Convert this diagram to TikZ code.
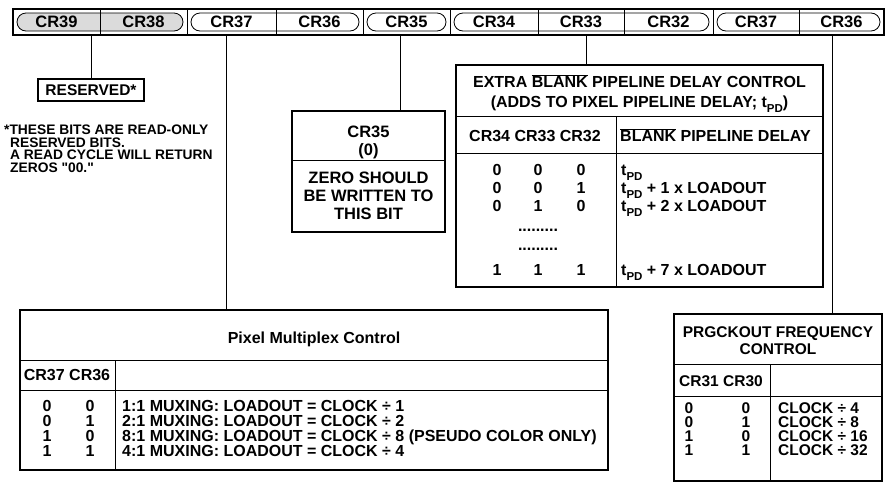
\documentclass[tikz,border=0pt]{standalone}
\usepackage{fontspec}
\setmainfont{Liberation Sans}[Ligatures=TeXOff]
\newcommand\tsub{\raisebox{-0.28em}{\fontsize{11.5}{11.5}\selectfont PD}}
\newcommand\ovl[1]{$\overline{\hbox{#1}}$}
\tikzset{
  lbl/.style={font=\fontsize{15.5}{18}\selectfont\bfseries, inner sep=0pt, text height=11.1pt, text depth=0pt},
  barlbl/.style={font=\fontsize{16.5}{18}\selectfont\bfseries, inner sep=0pt, text height=11.8pt, text depth=0pt},
  midlbl/.style={font=\fontsize{16.5}{18}\selectfont\bfseries, inner sep=0pt, text height=11.8pt, text depth=0pt},
  extlbl/.style={font=\fontsize{16}{18}\selectfont\bfseries, inner sep=0pt, text height=11.5pt, text depth=0pt},
  sml/.style={font=\fontsize{16}{18}\selectfont\bfseries, inner sep=0pt, text height=11.5pt, text depth=0pt},
  notetxt/.style={font=\fontsize{13.8}{15}\selectfont\bfseries, inner sep=0pt, text height=9.9pt, text depth=0pt, anchor=west},
  tbox/.style={draw, line width=1.3pt, inner sep=0pt},
  bitgroup/.style={draw, line width=0.8pt, rounded corners=9pt},
  rule/.style={line width=0.9pt},
  conn/.style={line width=1pt}
}
\begin{document}
\begin{tikzpicture}[x=1pt,y=-1pt]
\useasboundingbox (0,0) rectangle (886,483);
% ---------- register bar ----------
\draw[bitgroup, fill=gray!28] (17,13) rectangle (183,31);
\draw[bitgroup] (191,13) rectangle (359,31);
\draw[bitgroup] (367,13) rectangle (446,31);
\draw[bitgroup] (454,13) rectangle (709,31);
\draw[bitgroup] (717,13) rectangle (880,31);
\foreach \x in {100,187,276,363,450,538,624,713,799}
  \draw[rule] (\x,9) -- (\x,35);
\node[draw, line width=1.8pt, minimum width=871pt, minimum height=26pt, inner sep=0pt] (bar) at (448.5,22) {};
\node[barlbl] (c39) at (56.5,22) {CR39};
\node[barlbl] (c38) at (143.5,22) {CR38};
\node[barlbl] (c37) at (231.5,22) {CR37};
\node[barlbl] (c36) at (319.5,22) {CR36};
\node[barlbl] (c35) at (406.5,22) {CR35};
\node[barlbl] (c34) at (494,22) {CR34};
\node[barlbl] (c33) at (581,22) {CR33};
\node[barlbl] (c32) at (668.5,22) {CR32};
\node[barlbl] (c31) at (756,22) {CR37};
\node[barlbl] (c30) at (841.5,22) {CR36};
% ---------- reserved ----------
\node[tbox, minimum width=106pt, minimum height=22pt] (res) at (91,90) {};
\node[lbl] (restxt) at (res.center) {RESERVED*};
\node[notetxt] (n1) at (4,130) {*THESE BITS ARE READ-ONLY};
\node[notetxt] (n2) at (10,142.5) {RESERVED BITS.};
\node[notetxt] (n3) at (10,155) {A READ CYCLE WILL RETURN};
\node[notetxt] (n4) at (10,167.5) {ZEROS "00."};
% ---------- CR35 box ----------
\node[tbox, minimum width=153pt, minimum height=121pt] (z) at (368.5,171.5) {};
\node[midlbl] (z1) at (368.5,132) {CR35};
\node[midlbl] (z2) at (368.5,150) {(0)};
\draw[rule] (z.west |- 0,160) -- (z.east |- 0,160);
\node[midlbl] (z3) at (368.5,178) {ZERO SHOULD};
\node[midlbl] (z4) at (368.5,196) {BE WRITTEN TO};
\node[midlbl] (z5) at (368.5,214) {THIS BIT};
% ---------- EXTRA BLANK box ----------
\node[tbox, minimum width=367pt, minimum height=222pt] (ext) at (639.5,176) {};
\node[extlbl] (e1) at (639.5,82) {EXTRA \ovl{BLANK} PIPELINE DELAY CONTROL};
\node[extlbl] (e2) at (639.5,102) {(ADDS TO PIXEL PIPELINE DELAY; t\tsub)};
\draw[rule] (ext.west |- 0,116) -- (ext.east |- 0,116);
\draw[rule] (616,116) -- (616,0 |- ext.south);
\node[extlbl] (eh1) at (535,136) {CR34 CR33 CR32};
\node[extlbl, anchor=west] (eh2) at (620,136) {\ovl{BLANK} PIPELINE DELAY};
\draw[rule] (ext.west |- 0,153) -- (ext.east |- 0,153);
\foreach \y/\a/\b/\c/\n in {170/0/0/0/a,188/0/0/1/b,206/0/1/0/c,270/1/1/1/d}{
  \node[extlbl] (ea\n) at (497,\y) {\a};
  \node[extlbl] (eb\n) at (538,\y) {\b};
  \node[extlbl] (ec\n) at (581,\y) {\c};
}
\node[extlbl] (dots1) at (538,226) {.........};
\node[extlbl] (dots2) at (538,245) {.........};
\node[extlbl, anchor=west] (er1) at (621,170) {t\tsub};
\node[extlbl, anchor=west] (er2) at (621,188) {t\tsub{} + 1 x LOADOUT};
\node[extlbl, anchor=west] (er3) at (621,206) {t\tsub{} + 2 x LOADOUT};
\node[extlbl, anchor=west] (er4) at (621,270) {t\tsub{} + 7 x LOADOUT};
% ---------- Pixel multiplex box ----------
\node[tbox, minimum width=588pt, minimum height=160pt] (pix) at (314,390) {};
\node[sml] (p0) at (314,338) {Pixel Multiplex Control};
\draw[rule] (pix.west |- 0,360) -- (pix.east |- 0,360);
\draw[rule] (115,360) -- (115,0 |- pix.south);
\node[sml] (ph) at (67,375) {CR37 CR36};
\draw[rule] (pix.west |- 0,390) -- (pix.east |- 0,390);
\foreach \y/\a/\b/\t/\n in {406/0/0/{1:1 MUXING: LOADOUT = CLOCK ÷ 1}/a,
                            421/0/1/{2:1 MUXING: LOADOUT = CLOCK ÷ 2}/b,
                            436/1/0/{8:1 MUXING: LOADOUT = CLOCK ÷ 8 (PSEUDO COLOR ONLY)}/c,
                            451/1/1/{4:1 MUXING: LOADOUT = CLOCK ÷ 4}/d}{
  \node[sml] (pa\n) at (47,\y) {\a};
  \node[sml] (pb\n) at (90,\y) {\b};
  \node[sml, anchor=west] (pt\n) at (122,\y) {\t};
}
% ---------- PRGCKOUT box ----------
\node[tbox, minimum width=208pt, minimum height=167pt] (prg) at (778,397.5) {};
\node[lbl] (g1) at (778,332) {PRGCKOUT FREQUENCY};
\node[lbl] (g2) at (778,349) {CONTROL};
\draw[rule] (prg.west |- 0,364) -- (prg.east |- 0,364);
\draw[rule] (770,364) -- (770,0 |- prg.south);
\node[lbl] (gh) at (721,381) {CR31 CR30};
\draw[rule] (prg.west |- 0,396) -- (prg.east |- 0,396);
\foreach \y/\a/\b/\t/\n in {408/0/0/4/a,422/0/1/8/b,436/1/0/16/c,450/1/1/32/d}{
  \node[lbl] (ga\n) at (689,\y) {\a};
  \node[lbl] (gb\n) at (746,\y) {\b};
  \node[lbl, anchor=west] (gt\n) at (778,\y) {CLOCK ÷ \t};
}
% ---------- connectors ----------
\coordinate (k1) at (91,35);
\coordinate (k2) at (226,35);
\coordinate (k3) at (400,35);
\coordinate (k4) at (586,35);
\coordinate (k5) at (832,35);
\draw[conn] (k1) -- (res.north);
\draw[conn] (k2) -- (k2 |- pix.north);
\draw[conn] (k3) -- (k3 |- z.north);
\draw[conn] (k4) -- (k4 |- ext.north);
\draw[conn] (k5) -- (k5 |- prg.north);
\end{tikzpicture}
\end{document}
